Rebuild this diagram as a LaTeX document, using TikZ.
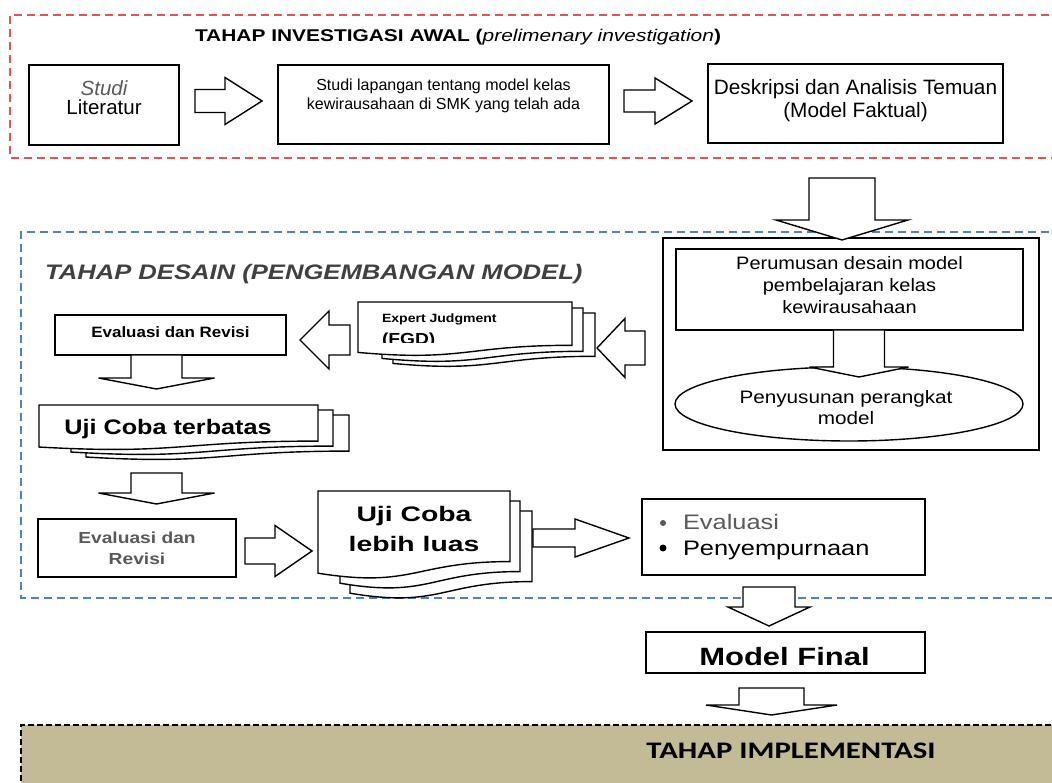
\documentclass[tikz,border=0pt]{standalone}
\usepackage{fontspec}
\setmainfont{Liberation Sans}
\newfontfamily\carl{Carlito}
\usepackage{graphicx}
\usetikzlibrary{shapes.geometric}
\definecolor{redd}{RGB}{222,85,85}
\definecolor{blued}{RGB}{79,129,189}
\definecolor{tanfill}{RGB}{195,186,150}
\definecolor{grayt}{RGB}{89,89,89}
\definecolor{darkt}{RGB}{64,64,64}
\newcommand{\hx}[2]{\scalebox{#1}[1]{#2}}
\newcommand{\fs}[1]{\fontsize{#1}{#1}\selectfont}
\newcommand{\RArrow}[6]{\draw[barrow] (#1,#4-#5) -- (#2,#4-#5) -- (#2,#4-#6) -- (#3,#4) -- (#2,#4+#6) -- (#2,#4+#5) -- (#1,#4+#5) -- cycle;}
\newcommand{\DArrow}[6]{\draw[barrow] (#4-#5,#1) -- (#4-#5,#2) -- (#4-#6,#2) -- (#4,#3) -- (#4+#6,#2) -- (#4+#5,#2) -- (#4+#5,#1) -- cycle;}
\newcommand{\Sheet}[4]{\draw[box] (#1,#3) -- (#2,#3) -- (#2,{#3+0.802*#4}) .. controls ({(#1+#2)/2},{#3+0.802*#4}) and ({(#1+#2)/2},{#3+1.1075*#4}) .. (#1,{#3+0.934*#4}) -- cycle;}
\begin{document}
\begin{tikzpicture}[x=1pt,y=-1pt,
 box/.style={draw=black, line width=1.4pt, fill=white},
 barrow/.style={draw=black, line width=1.4pt, fill=white, line join=miter},
 lbl/.style={inner sep=0pt, outer sep=0pt, anchor=base},
 lblw/.style={inner sep=0pt, outer sep=0pt, anchor=base west},
 reddash/.style={draw=redd, line width=1.4pt, dash pattern=on 8pt off 5pt},
 bluedash/.style={draw=blued, line width=1.4pt, dash pattern=on 8pt off 5pt}]
\useasboundingbox (0,0) rectangle (1052,783);
% ---------- investigation stage
\draw[reddash] (1062,15) -- (10,15) -- (10,158) -- (1062,158);
\node[lblw, font=\fs{17}] (t1) at (195,42) {\hx{1.23}{\textbf{TAHAP INVESTIGASI AWAL (}\textit{prelimenary investigation}\textbf{)}}};
\node[box, minimum width=150pt, minimum height=80pt] (lit) at (104,105) {};
\node[lbl, font=\fs{20.5}, text=grayt] (lit1) at (104,95.5) {\itshape Studi};
\node[lbl, font=\fs{20.5}] (lit2) at (104,115) {Literatur};
\RArrow{195}{225}{262}{101}{11.5}{23.5}
\node[box, minimum width=331pt, minimum height=79pt] (lap) at (443.5,104.5) {};
\node[lbl, font=\fs{16}] (lap1) at (443.5,91) {Studi lapangan tentang model kelas};
\node[lbl, font=\fs{16}] (lap2) at (443.5,110) {kewirausahaan di SMK yang telah ada};
\RArrow{624}{655}{692}{101}{11}{23}
\node[box, minimum width=295pt, minimum height=79pt] (desk) at (855.5,103.5) {};
\node[lbl, font=\fs{20.8}] (desk1) at (855.5,94.5) {Deskripsi dan Analisis Temuan};
\node[lbl, font=\fs{20.8}] (desk2) at (855.5,117.5) {(Model Faktual)};
% ---------- design stage
\draw[bluedash] (1062,232) -- (21,232) -- (21,598) -- (1062,598);
\node[lblw, font={\fs{21}\bfseries\itshape}, text=darkt] (t2) at (45,280) {\hx{1.22}{TAHAP DESAIN (PENGEMBANGAN MODEL)}};
\node[box, minimum width=376pt, minimum height=212pt] (big) at (851,344) {};
\DArrow{178}{220}{240}{842}{33}{66}
\node[box, minimum width=347pt, minimum height=81pt] (rum) at (849.5,289.5) {};
\node[lbl, font=\fs{18}] (rum1) at (849.5,269.5) {\hx{1.11}{Perumusan desain model}};
\node[lbl, font=\fs{18}] (rum2) at (849.5,291.5) {\hx{1.11}{pembelajaran kelas}};
\node[lbl, font=\fs{18}] (rum3) at (849.5,313.5) {\hx{1.11}{kewirausahaan}};
\node[box, ellipse, minimum width=348pt, minimum height=74pt] (ell) at (849,404) {};
\DArrow{330}{367}{377}{859}{25.5}{49.5}
\node[lbl, font=\fs{18}] (ell1) at (846,403.5) {\hx{1.15}{Penyusunan perangkat}};
\node[lbl, font=\fs{18}] (ell2) at (846,424.5) {\hx{1.15}{model}};
\RArrow{645}{625}{597}{348}{17}{29.5}
\Sheet{393}{595}{313}{54}
\Sheet{382}{583}{308}{54}
\Sheet{358}{572}{302}{54}
\node[lblw, font={\fs{12}\bfseries}] (exp1) at (382,323) {\hx{1.17}{Expert Judgment}};
\begin{scope}
\clip (358,300) rectangle (572,342.5);
\node[lblw, font={\fs{16}\bfseries}] (exp2) at (382,344.5) {\hx{1.2}{(FGD)}};
\end{scope}
\RArrow{350}{329}{300}{340}{15}{29}
\node[box, minimum width=231pt, minimum height=40pt] (ev1) at (170.5,335) {};
\node[lbl, font={\fs{15}\bfseries}] (ev1t) at (170.5,337.5) {\hx{1.13}{Evaluasi dan Revisi}};
\DArrow{355}{378}{389}{156.5}{25.5}{58}
\Sheet{86}{349}{415}{45}
\Sheet{71}{333}{410}{45}
\Sheet{39}{318}{405}{45}
\node[lbl, font={\fs{21}\bfseries}] (uji1) at (168,434) {\hx{1.2}{Uji Coba terbatas}};
\DArrow{473}{493}{504}{156.5}{25.5}{58}
\node[box, minimum width=198pt, minimum height=58pt] (ev2) at (137,548) {};
\node[lbl, font={\fs{16}\bfseries}, text=grayt] (ev2a) at (137,543.3) {\hx{1.2}{Evaluasi dan}};
\node[lbl, font={\fs{16}\bfseries}, text=grayt] (ev2b) at (137,564) {\hx{1.2}{Revisi}};
\RArrow{245}{275}{312}{551}{13}{25.5}
\Sheet{350}{532}{511}{88}
\Sheet{340}{520}{501}{88}
\Sheet{318}{510}{491}{88}
\node[lbl, font={\fs{21}\bfseries}] (uji2a) at (414,521.7) {\hx{1.35}{Uji Coba}};
\node[lbl, font={\fs{21}\bfseries}] (uji2b) at (414,551.7) {\hx{1.35}{lebih luas}};
\RArrow{533}{575}{629}{538}{9}{19}
\node[box, minimum width=283pt, minimum height=76pt] (eval) at (783.5,537) {};
\fill[grayt] (663,523) circle (3pt);
\fill[black] (663,548) circle (3.5pt);
\node[lblw, font=\fs{21}, text=grayt] (evb1) at (683,529.5) {\hx{1.21}{Evaluasi}};
\node[lblw, font=\fs{21}] (evb2) at (683,555.5) {\hx{1.21}{Penyempurnaan}};
\DArrow{587}{607}{626}{769}{26}{41}
\node[box, minimum width=279pt, minimum height=41pt] (final) at (785.5,652.5) {};
\node[lbl, font={\fs{25}\bfseries}] (finalt) at (784.5,665) {\hx{1.24}{Model Final}};
\DArrow{688}{705}{715}{771.5}{32.5}{65.5}
% ---------- implementation stage
\fill[tanfill] (21,725) rectangle (1062,790);
\draw[black, line width=2pt, dash pattern=on 6pt off 3pt] (21,790) -- (21,725) -- (1062,725);
\node[lbl, font={\fs{23.7}\carl\bfseries}] (impl) at (791,758.3) {\hx{1.3}{TAHAP IMPLEMENTASI}};
\end{tikzpicture}
\end{document}
